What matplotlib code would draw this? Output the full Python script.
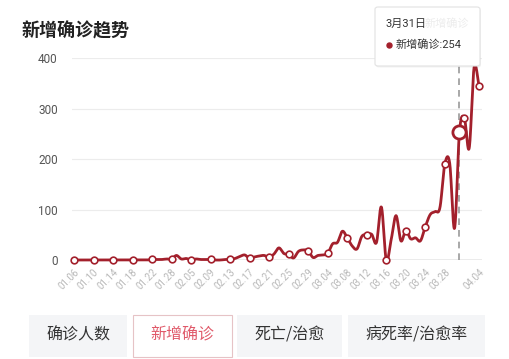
import numpy as np
import matplotlib
matplotlib.use("Agg")
import matplotlib.pyplot as plt
from matplotlib.patches import FancyBboxPatch, Rectangle
from matplotlib.lines import Line2D

plt.rcParams['font.family'] = ['Roboto', 'Noto Sans CJK SC', 'DejaVu Sans']

dates = [
    "01.06", "01.07", "01.08", "01.09", "01.10", "01.11", "01.12", "01.13",
    "01.14", "01.15", "01.16", "01.17", "01.18", "01.19", "01.20", "01.21",
    "01.22", "01.23", "01.24", "01.26", "01.28", "01.30", "02.01", "02.03",
    "02.05", "02.06", "02.07", "02.08", "02.09", "02.10", "02.11", "02.12",
    "02.13", "02.14", "02.15", "02.16", "02.17", "02.18", "02.19", "02.20",
    "02.21", "02.22", "02.23", "02.24", "02.25", "02.26", "02.27", "02.28",
    "02.29", "03.01", "03.02", "03.03", "03.04", "03.05", "03.06", "03.07",
    "03.08", "03.09", "03.10", "03.11", "03.12", "03.13", "03.14", "03.15",
    "03.16", "03.17", "03.18", "03.19", "03.20", "03.21", "03.22", "03.23",
    "03.24", "03.25", "03.26", "03.27", "03.28", "03.29", "03.30", "03.31",
    "04.01", "04.02", "04.03", "04.04",
]
new_cases = [
    0, 0, 0, 0, 0, 0, 0, 0, 0, 0, 0, 0, 0, 0, 0, 0,
    1, 1, 1, 2, 2, 9, 2, 3, 0, 2, 1, 1, 1, 0, 0, 1,
    1, 3, 7, 10, 3, 6, 8, 9, 5, 12, 24, 13, 11, 4, 17, 20,
    18, 5, 9, 10, 13, 32, 35, 57, 44, 28, 22, 47, 50, 51, 35, 105,
    0, 40, 88, 38, 58, 42, 44, 38, 66, 90, 96, 104, 190, 192, 63, 254,
    282, 222, 382, 345,
]
yticks = [0, 100, 200, 300, 400]
tabs = ["确诊人数", "新增确诊", "死亡/治愈", "病死率/治愈率"]
title = "新增确诊趋势"
highlight_idx = 79
tooltip_date = "3月31日"
series_name = "新增确诊"

RED = "#a3202c"

W, H = 509, 359
fig = plt.figure(figsize=(W / 100, H / 100), dpi=100)
fig.patch.set_facecolor("white")

# axes placement in pixels
x_left, x_right = 71.7, 481.7
y_bottom, y_top = 260.0, 58.3
ax = fig.add_axes([x_left / W, (H - y_bottom) / H, (x_right - x_left) / W, (y_bottom - y_top) / H])
ax.set_facecolor("none")

n = len(new_cases)
xs = np.arange(n, dtype=float)
ys = np.array(new_cases, dtype=float)

# smooth rendering (bezier through the points)
k = 0.17
px, py = [], []
t = np.linspace(0, 1, 20)
for i in range(n - 1):
    p0 = np.array([xs[i], ys[i]])
    p3 = np.array([xs[i + 1], ys[i + 1]])
    pm = np.array([xs[max(i - 1, 0)], ys[max(i - 1, 0)]])
    pn = np.array([xs[min(i + 2, n - 1)], ys[min(i + 2, n - 1)]])
    p1 = p0 + k * (p3 - pm)
    p2 = p3 - k * (pn - p0)
    bx = (1 - t) ** 3 * p0[0] + 3 * (1 - t) ** 2 * t * p1[0] + 3 * (1 - t) * t ** 2 * p2[0] + t ** 3 * p3[0]
    by = (1 - t) ** 3 * p0[1] + 3 * (1 - t) ** 2 * t * p1[1] + 3 * (1 - t) * t ** 2 * p2[1] + t ** 3 * p3[1]
    px.extend(bx[:-1])
    py.extend(by[:-1])
px.append(xs[-1])
py.append(ys[-1])

ax.set_xlim(-0.47, 83.56)
ax.set_ylim(0, 400)

for v in yticks[1:]:
    ax.axhline(v, color="#ececec", lw=0.8, zorder=0)
ax.axhline(0, color="#9a9a9a", lw=1.0, zorder=1)

ax.plot([highlight_idx, highlight_idx], [0, 420], color="#9a9a9a", lw=1.2,
        ls=(0, (4, 3)), zorder=2, clip_on=False)

ax.plot(px, py, color=RED, lw=2.0, zorder=3, clip_on=False, solid_capstyle="round")

mark_idx = list(range(0, 80, 4)) + [80, n - 1]
ax.plot(xs[mark_idx], ys[mark_idx], ls="none", marker="o", ms=4.8, mfc="white",
        mec=RED, mew=1.2, zorder=4, clip_on=False)
ax.plot([xs[highlight_idx]], [ys[highlight_idx]], ls="none", marker="o", ms=9.5,
        mfc="white", mec=RED, mew=2.0, zorder=5, clip_on=False)

tick_pos = list(range(0, 80, 4)) + [n - 1]
ax.set_xticks(tick_pos)
ax.set_xticklabels([dates[i] for i in tick_pos], rotation=45, ha="right",
                   va="top", rotation_mode="anchor", fontsize=7, color="#b8b8b8")
ax.set_yticks(yticks)
ax.set_yticklabels([str(v) for v in yticks], fontsize=8.5, color="#555555")
ax.tick_params(axis="both", length=0)
ax.tick_params(axis="x", pad=5)
ax.tick_params(axis="y", pad=10)
for s in ax.spines.values():
    s.set_visible(False)

# title
fig.text(22 / W, 1 - 30.5 / H, title, fontsize=13, fontweight="bold",
         color="#222222", ha="left", va="center", family=['Noto Sans CJK SC', 'DejaVu Sans'])

# tooltip
tx0, ty0, tx1, ty1 = 375, 7, 480, 66
shadow = FancyBboxPatch((tx0 / W + 0.002, 1 - (ty1 + 1.5) / H), (tx1 - tx0) / W, (ty1 - ty0) / H,
                        boxstyle="round,pad=0,rounding_size=0.006", transform=fig.transFigure,
                        fc="#000000", ec="none", alpha=0.05, zorder=9)
fig.patches.append(shadow)
tip = FancyBboxPatch((tx0 / W, 1 - ty1 / H), (tx1 - tx0) / W, (ty1 - ty0) / H,
                     boxstyle="round,pad=0,rounding_size=0.006", transform=fig.transFigure,
                     fc="white", ec="#e2e2e2", lw=0.8, zorder=10)
fig.patches.append(tip)
fig.text(425 / W, 1 - 24 / H, series_name, fontsize=8, color="#ececec", ha="left",
         va="center", zorder=11)
fig.text(385 / W, 1 - 24 / H, tooltip_date, fontsize=8, color="#333333", ha="left",
         va="center", zorder=12)
fig.add_artist(Line2D([388.5 / W], [1 - 45 / H], marker="o", ms=3.6, color=RED,
                      ls="none", transform=fig.transFigure, zorder=12))
fig.text(396 / W, 1 - 45 / H, f"{series_name}:{new_cases[highlight_idx]}", fontsize=8,
         color="#333333", ha="left", va="center", zorder=12)

# bottom tabs
tab_boxes = [(29.3, 126.7), (132.7, 231.7), (236.7, 341.7), (348.3, 485.0)]
by0, by1 = 315, 357
for i, (lab, (a, b)) in enumerate(zip(tabs, tab_boxes)):
    if i == 1:
        r = Rectangle((a / W, 1 - by1 / H), (b - a) / W, (by1 - by0) / H + 0.0,
                      transform=fig.transFigure, fc="white", ec="#e6c3c6", lw=0.8)
        col = "#e05a6a"
    else:
        r = Rectangle((a / W, 1 - by1 / H), (b - a) / W, (by1 - by0) / H,
                      transform=fig.transFigure, fc="#f4f5f7", ec="none")
        col = "#333333"
    fig.patches.append(r)
    fig.text((a + b) / 2 / W, 1 - 335 / H, lab, fontsize=11.5, color=col,
             ha="center", va="center", family=['Noto Sans CJK SC', 'DejaVu Sans'])

fig.savefig("out.png", dpi=100, facecolor="white")
